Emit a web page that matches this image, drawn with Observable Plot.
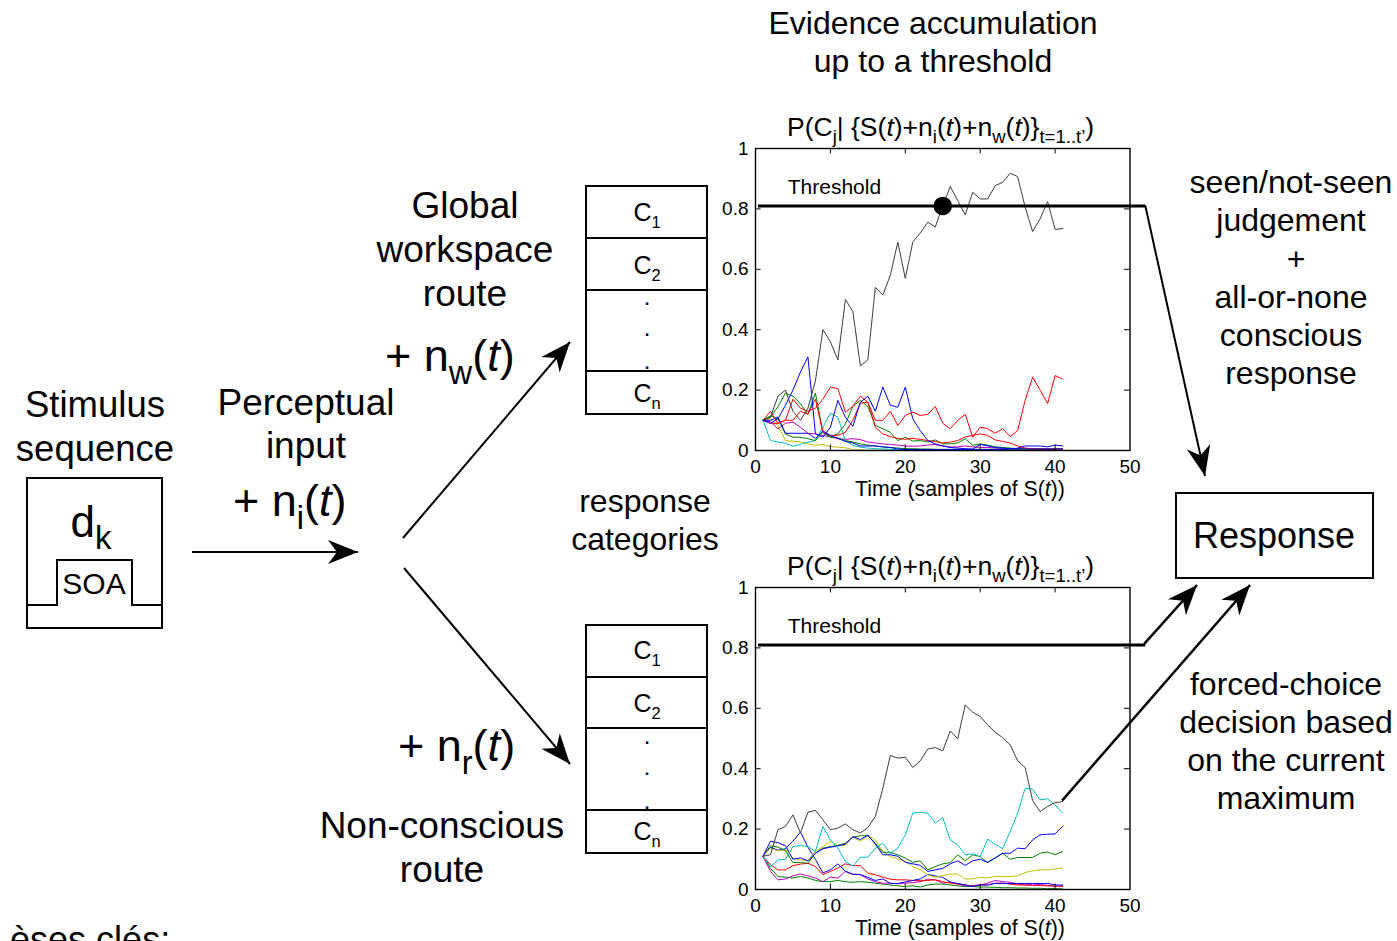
<!DOCTYPE html>
<html><head><meta charset="utf-8">
<script src="https://cdn.jsdelivr.net/npm/d3@7"></script>
<script src="https://cdn.jsdelivr.net/npm/@observablehq/plot@0.6"></script>
<style>
html,body{margin:0;padding:0;background:#fff;}
#wrap{position:relative;width:1397px;height:941px;overflow:hidden;background:#fff;font-family:"Liberation Sans",Arial,sans-serif;}
.chart{position:absolute;}
#overlay{position:absolute;left:0;top:0;}
</style></head><body><div id="wrap"></div>
<script>
// ---------- DATA ----------
const time = [1,2,3,4,5,6,7,8,9,10,11,12,13,14,15,16,17,18,19,20,21,22,23,24,25,26,27,28,29,30,31,32,33,34,35,36,37,38,39,40,41];
const xTicks = [0,10,20,30,40,50];
const yTicks = [0,0.2,0.4,0.6,0.8,1];
const threshold = 0.81;
const thresholdLabel = "Threshold";
const crossing = {t: 25, v: 0.81};

// Global workspace route (top panel)
const topBlack   = [0.10,0.11,0.18,0.20,0.13,0.10,0.14,0.23,0.40,0.36,0.30,0.50,0.46,0.28,0.30,0.54,0.515,0.58,0.69,0.57,0.69,0.72,0.756,0.74,0.81,0.874,0.828,0.78,0.855,0.833,0.833,0.877,0.888,0.918,0.907,0.806,0.725,0.767,0.824,0.732,0.735];
const topBlue1   = [0.10,0.09,0.105,0.15,0.20,0.26,0.31,0.055,0.044,0.077,0.166,0.11,0.08,0.16,0.18,0.13,0.21,0.15,0.143,0.21,0.105,0.066,0.033,0.022,0.015,0.01,0.008,0.006,0.005,0.02,0.015,0.01,0.008,0.006,0.005,0.005,0.005,0.005,0.005,0.005,0.005];
const topBlue2   = [0.10,0.10,0.11,0.057,0.057,0.057,0.057,0.04,0.065,0.05,0.04,0.03,0.025,0.015,0.015,0.015,0.012,0.01,0.005,0.003,0.003,0.003,0.003,0.003,0.003,0.003,0.003,0.003,0.003,0.003,0.003,0.003,0.004,0.005,0.008,0.015,0.015,0.015,0.012,0.018,0.015];
const topRed1    = [0.10,0.13,0.09,0.10,0.17,0.14,0.13,0.14,0.17,0.21,0.205,0.127,0.146,0.18,0.16,0.10,0.10,0.13,0.083,0.116,0.127,0.116,0.12,0.146,0.09,0.072,0.10,0.12,0.044,0.077,0.072,0.057,0.072,0.046,0.066,0.166,0.243,0.20,0.155,0.248,0.237];
const topRed2    = [0.10,0.09,0.09,0.10,0.10,0.13,0.12,0.17,0.06,0.05,0.05,0.06,0.10,0.157,0.16,0.077,0.055,0.046,0.04,0.037,0.04,0.037,0.033,0.03,0.025,0.028,0.033,0.045,0.05,0.055,0.05,0.035,0.03,0.025,0.015,0.008,0.006,0.005,0.005,0.005,0.005];
const topGreen1  = [0.10,0.11,0.145,0.19,0.18,0.155,0.12,0.19,0.06,0.046,0.055,0.088,0.146,0.166,0.146,0.083,0.072,0.06,0.033,0.044,0.031,0.033,0.028,0.035,0.022,0.022,0.025,0.039,0.017,0.022,0.018,0.012,0.01,0.008,0.006,0.005,0.005,0.004,0.004,0.004,0.004];
const topGreen2  = [0.10,0.115,0.105,0.055,0.044,0.044,0.039,0.033,0.06,0.044,0.042,0.033,0.028,0.022,0.018,0.015,0.012,0.01,0.008,0.006,0.006,0.005,0.005,0.004,0.004,0.004,0.004,0.004,0.004,0.004,0.004,0.004,0.004,0.004,0.004,0.004,0.004,0.004,0.004,0.004,0.004];
const topCyan    = [0.10,0.033,0.028,0.024,0.014,0.02,0.028,0.033,0.077,0.124,0.11,0.033,0.017,0.011,0.008,0.006,0.005,0.004,0.003,0.003,0.003,0.003,0.003,0.003,0.003,0.003,0.003,0.003,0.003,0.003,0.003,0.003,0.003,0.003,0.003,0.003,0.003,0.003,0.003,0.003,0.003];
const topMagenta = [0.10,0.095,0.072,0.09,0.094,0.077,0.057,0.055,0.05,0.045,0.039,0.037,0.039,0.036,0.028,0.025,0.022,0.02,0.018,0.015,0.014,0.015,0.018,0.02,0.015,0.012,0.012,0.015,0.012,0.01,0.01,0.008,0.007,0.006,0.006,0.005,0.005,0.005,0.005,0.005,0.005];
const topYellow  = [0.10,0.105,0.083,0.033,0.031,0.028,0.022,0.017,0.02,0.013,0.011,0.009,0.003,0.002,0.001,0.001,0.001,0.001,0.001,0.001,0.001,0.001,0.001,0.001,0.001,0.001,0.001,0.001,0.001,0.001,0.001,0.001,0.001,0.001,0.001,0.001,0.001,0.001,0.001,0.001,0.001];

// Non-conscious route (bottom panel)
const botBlack   = [0.11,0.115,0.198,0.209,0.247,0.187,0.256,0.262,0.231,0.198,0.203,0.217,0.198,0.187,0.205,0.242,0.335,0.444,0.435,0.438,0.404,0.426,0.465,0.47,0.459,0.525,0.499,0.611,0.587,0.573,0.545,0.521,0.503,0.479,0.426,0.404,0.294,0.258,0.275,0.288,0.291];
const botCyan    = [0.11,0.076,0.098,0.10,0.142,0.146,0.142,0.126,0.209,0.164,0.137,0.093,0.078,0.107,0.107,0.137,0.153,0.118,0.137,0.181,0.253,0.256,0.253,0.22,0.238,0.164,0.148,0.115,0.118,0.109,0.167,0.15,0.135,0.192,0.253,0.335,0.332,0.297,0.30,0.28,0.253];
const botBlue1   = [0.11,0.14,0.13,0.135,0.16,0.19,0.14,0.10,0.055,0.065,0.085,0.06,0.05,0.05,0.04,0.03,0.035,0.02,0.02,0.025,0.03,0.035,0.05,0.045,0.04,0.025,0.02,0.015,0.01,0.015,0.015,0.02,0.02,0.02,0.02,0.02,0.02,0.02,0.02,0.015,0.015];
const botBlue2   = [0.11,0.16,0.155,0.145,0.10,0.105,0.095,0.12,0.135,0.14,0.145,0.15,0.175,0.165,0.18,0.15,0.115,0.115,0.11,0.09,0.085,0.08,0.06,0.065,0.07,0.085,0.095,0.08,0.095,0.10,0.09,0.105,0.12,0.12,0.137,0.135,0.164,0.181,0.183,0.184,0.209];
const botGreen1  = [0.11,0.145,0.14,0.129,0.089,0.089,0.087,0.12,0.137,0.142,0.146,0.153,0.173,0.178,0.178,0.153,0.123,0.123,0.115,0.104,0.09,0.095,0.065,0.076,0.085,0.089,0.115,0.095,0.115,0.109,0.089,0.104,0.12,0.10,0.106,0.106,0.106,0.12,0.124,0.115,0.126];
const botGreen2  = [0.11,0.07,0.043,0.041,0.038,0.043,0.038,0.03,0.026,0.026,0.03,0.026,0.024,0.026,0.024,0.021,0.018,0.015,0.012,0.01,0.012,0.008,0.015,0.018,0.018,0.015,0.012,0.01,0.01,0.008,0.008,0.007,0.006,0.006,0.005,0.005,0.004,0.004,0.003,0.003,0.002];
const botYellow  = [0.11,0.137,0.128,0.132,0.104,0.098,0.095,0.126,0.142,0.159,0.145,0.146,0.175,0.159,0.179,0.164,0.126,0.109,0.102,0.093,0.076,0.065,0.049,0.04,0.046,0.051,0.051,0.035,0.035,0.04,0.038,0.043,0.043,0.043,0.045,0.056,0.062,0.065,0.065,0.068,0.071];
const botRed     = [0.11,0.082,0.065,0.065,0.079,0.084,0.087,0.076,0.049,0.06,0.071,0.085,0.079,0.079,0.054,0.049,0.041,0.034,0.032,0.032,0.03,0.029,0.03,0.032,0.026,0.021,0.018,0.015,0.012,0.015,0.015,0.021,0.021,0.018,0.015,0.015,0.013,0.013,0.012,0.012,0.01];
const botMagenta = [0.11,0.06,0.032,0.035,0.045,0.051,0.045,0.038,0.026,0.041,0.038,0.06,0.051,0.049,0.035,0.026,0.021,0.021,0.019,0.021,0.023,0.026,0.034,0.032,0.021,0.024,0.018,0.012,0.013,0.015,0.021,0.03,0.026,0.024,0.018,0.015,0.018,0.016,0.014,0.01,0.012];

const COL = {black:"#3c3c3c", blue:"#0000ff", red:"#ff0000", green:"#008000", cyan:"#00bfbf", magenta:"#bf00bf", yellow:"#bfbf00"};
const topSeries = [
  ["yellow", topYellow], ["magenta", topMagenta], ["cyan", topCyan], ["green", topGreen2], ["green", topGreen1],
  ["red", topRed2], ["blue", topBlue2], ["blue", topBlue1], ["red", topRed1], ["black", topBlack]
];
const botSeries = [
  ["green", botGreen2], ["magenta", botMagenta], ["red", botRed], ["blue", botBlue1], ["yellow", botYellow],
  ["green", botGreen1], ["blue", botBlue2], ["cyan", botCyan], ["black", botBlack]
];

// ---------- LAYOUT ----------
const FONT = "Liberation Sans, Arial, Helvetica, sans-serif";
const CH = {left: 690, width: 479, mL: 65, mR: 39.5, mT: 48, mB: 62, h: 412};
const wrap = d3.select("#wrap");

function toRows(series) {
  const rows = [];
  series.forEach(([c, vals], k) => vals.forEach((v, i) => rows.push({t: time[i], v, key: k, col: COL[c]})));
  return rows;
}

function makeChart(series, top, withDot) {
  const rows = toRows(series);
  const marks = [
    Plot.line(rows, {x: "t", y: "v", z: "key", stroke: "col", strokeWidth: 1}),
    Plot.ruleX(xTicks.slice(1, -1), {y1: 0, y2: 0.018, stroke: "#000"}),
    Plot.ruleX(xTicks.slice(1, -1), {y1: 0.982, y2: 1, stroke: "#000"}),
    Plot.ruleY(yTicks.slice(1, -1), {x1: 0, x2: 0.75, stroke: "#000"}),
    Plot.ruleY(yTicks.slice(1, -1), {x1: 49.25, x2: 50, stroke: "#000"}),
    Plot.frame({stroke: "#000", strokeWidth: 1.4}),
    Plot.axisX({ticks: xTicks, tickSize: 0, tickPadding: 9, label: null, tickFormat: d => String(d)}),
    Plot.axisY({ticks: yTicks, tickSize: 0, tickPadding: 7, label: null, tickFormat: d => String(d)}),
    Plot.ruleY([threshold], {x1: 0.4, x2: 52.1, stroke: "#000", strokeWidth: 3}),
    Plot.text([thresholdLabel], {x: 4.3, y: threshold + 0.062, text: d => d, textAnchor: "start", fontSize: 21, fill: "#000"})
  ];
  if (withDot) marks.push(Plot.dot([crossing], {x: "t", y: "v", r: 8.5, fill: "#000", stroke: "#000"}));
  const p = Plot.plot({
    width: CH.width, height: CH.h,
    marginLeft: CH.mL, marginRight: CH.mR, marginTop: CH.mT, marginBottom: CH.mB,
    x: {domain: [0, 50]}, y: {domain: [0, 1]},
    color: {type: "identity"},
    style: {fontFamily: FONT, fontSize: "19px", color: "#000", background: "transparent", overflow: "visible"},
    marks
  });
  p.classList.add("chart");
  p.style.left = CH.left + "px";
  p.style.top = top + "px";
  wrap.node().appendChild(p);
  const sx = p.scale("x"), sy = p.scale("y");
  return {X: v => CH.left + sx.apply(v), Y: v => top + sy.apply(v)};
}

const topC = makeChart(topSeries, 100, true);
const botC = makeChart(botSeries, 538.5, false);

// ---------- OVERLAY (diagram) ----------
const svg = wrap.append("svg").attr("id", "overlay").attr("width", 1397).attr("height", 941)
  .attr("font-family", FONT).attr("fill", "#000");
const defs = svg.append("defs");
defs.append("marker").attr("id", "ah").attr("markerUnits", "userSpaceOnUse")
  .attr("viewBox", "-32 -15 34 30").attr("refX", 0).attr("refY", 0)
  .attr("markerWidth", 34).attr("markerHeight", 30).attr("orient", "auto")
  .append("path").attr("d", "M0,0 L-30,-12 L-21,0 L-30,12 Z").attr("fill", "#000");
defs.append("clipPath").attr("id", "cropLeft")
  .append("rect").attr("x", 9).attr("y", 880).attr("width", 400).attr("height", 80);

function rich(x, y, segs, size, anchor = "middle", sub = 0.66) {
  const tx = svg.append("text").attr("x", x).attr("y", y).attr("font-size", size).attr("text-anchor", anchor);
  let shifted = 0;
  segs.forEach(s => {
    const sp = tx.append("tspan").text(s.t);
    const target = s.sub ? size * 0.28 : 0;
    if (target !== shifted) { sp.attr("dy", target - shifted); shifted = target; }
    if (s.sub) sp.attr("font-size", size * (s.scale || sub));
    if (s.it) sp.attr("font-style", "italic");
  });
  return tx;
}
function label(x, y, str, size, anchor = "middle") { return rich(x, y, [{t: str}], size, anchor); }
function line(pts, w = 2, arrow = false) {
  const p = svg.append("path").attr("d", d3.line()(pts)).attr("fill", "none").attr("stroke", "#000")
    .attr("stroke-width", w).attr("stroke-linejoin", "miter");
  if (arrow) p.attr("marker-end", "url(#ah)");
  return p;
}

// titles and axis labels of the two panels
const titleSegs = [{t: "P(C"}, {t: "j", sub: true}, {t: "| {S("}, {t: "t", it: true}, {t: ")+n"}, {t: "i", sub: true},
  {t: "("}, {t: "t", it: true}, {t: ")+n"}, {t: "w", sub: true}, {t: "("}, {t: "t", it: true}, {t: ")}"},
  {t: "t=1..t’", sub: true}, {t: ")"}];
const xlabSegs = [{t: "Time (samples of S("}, {t: "t", it: true}, {t: "))"}];
[topC, botC].forEach(c => {
  rich(787, c.Y(1) - 12, titleSegs, 26.5, "start", 0.7);
  rich(960, c.Y(0) + 46, xlabSegs, 21.3);
});

// header
label(933, 34, "Evidence accumulation", 32);
label(933, 72, "up to a threshold", 32);

// stimulus
label(95, 417, "Stimulus", 36.5);
label(95, 461, "sequence", 36.5);
svg.append("rect").attr("x", 27).attr("y", 478).attr("width", 135).attr("height", 150)
  .attr("fill", "none").attr("stroke", "#000").attr("stroke-width", 2);
line([[27, 605], [57, 605], [57, 560], [132, 560], [132, 605], [162, 605]], 2);
rich(91, 537, [{t: "d"}, {t: "k", sub: true, scale: 0.75}], 44);
label(94, 594, "SOA", 30);

// perceptual input
label(306, 415, "Perceptual", 37);
label(306, 458, "input", 37);
rich(233, 516, [{t: "+ n"}, {t: "i", sub: true}, {t: "("}, {t: "t", it: true}, {t: ")"}], 45, "start", 0.72);
line([[192, 552], [358, 552]], 2.2, true);

// routes
line([[403, 538], [570, 342]], 2, true);
line([[404, 568], [570, 764]], 2, true);
label(465, 218, "Global", 37);
label(465, 262, "workspace", 37);
label(465, 306, "route", 37);
rich(385, 371, [{t: "+ n"}, {t: "w", sub: true}, {t: "("}, {t: "t", it: true}, {t: ")"}], 45, "start", 0.72);
rich(398, 761, [{t: "+ n"}, {t: "r", sub: true}, {t: "("}, {t: "t", it: true}, {t: ")"}], 45, "start", 0.72);
label(442, 838, "Non-conscious", 37);
label(442, 882, "route", 37);
label(645, 512, "response", 32);
label(645, 550, "categories", 32);

// category columns
function column(y0, dividers, labelsY, dotsY) {
  svg.append("rect").attr("x", 586).attr("y", y0).attr("width", 121).attr("height", 228)
    .attr("fill", "none").attr("stroke", "#000").attr("stroke-width", 2);
  dividers.forEach(y => line([[586, y], [707, y]], 2));
  const names = ["1", "2", "n"];
  labelsY.forEach((y, i) => rich(647, y, [{t: "C"}, {t: names[i], sub: true}], 25));
  dotsY.forEach(y => label(647, y, ".", 24));
}
column(186, [238, 290, 371], [221, 274, 402], [305, 336, 369]);
column(625, [677, 728, 810], [659, 712, 840], [744, 775, 809]);

// response side
label(1291, 193, "seen/not-seen", 32);
label(1291, 231, "judgement", 32);
label(1296, 270, "+", 32);
label(1291, 308, "all-or-none", 32);
label(1291, 346, "conscious", 32);
label(1291, 384, "response", 32);
svg.append("rect").attr("x", 1176).attr("y", 493).attr("width", 197).attr("height", 85)
  .attr("fill", "none").attr("stroke", "#000").attr("stroke-width", 2);
label(1274, 548, "Response", 36);
label(1286, 695, "forced-choice", 32);
label(1286, 733, "decision based", 32);
label(1286, 771, "on the current", 32);
label(1286, 809, "maximum", 32);

// connectors to Response
line([[topC.X(52.1), topC.Y(threshold)], [1205, 476]], 2, true);
line([[botC.X(52.1) - 1, botC.Y(threshold)], [1197, 585]], 2.5, true);
line([[botC.X(time[time.length - 1]), botC.Y(botBlack[botBlack.length - 1])], [1250, 585]], 2.5, true);

// cropped caption at the bottom (the source image shows only "èses clés:", top part)
label(-104, 952, "Hypothèses clés:", 36, "start").attr("clip-path", "url(#cropLeft)");
</script>
</body></html>
